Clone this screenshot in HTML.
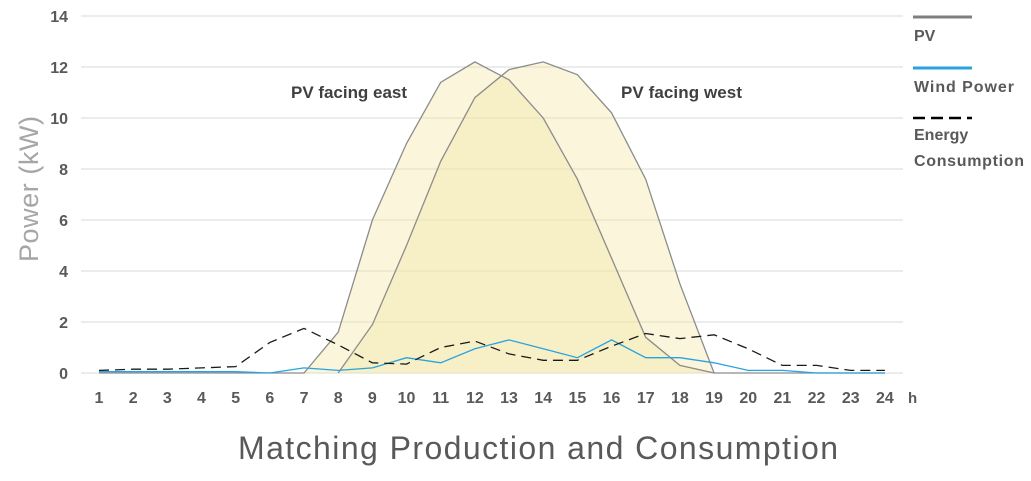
<!DOCTYPE html>
<html><head><meta charset="utf-8"><style>
body{margin:0;background:#fff;width:1031px;height:476px;overflow:hidden}
svg text{font-family:"Liberation Sans",sans-serif}
</style></head><body>
<svg id="s" width="1031" height="476" xmlns="http://www.w3.org/2000/svg">
<g id="grid" stroke="#d9d9d9" stroke-width="1"></g>
<g id="series"></g>
<g id="labels" fill="#595959" font-size="16" font-weight="bold"></g>
<text x="291" y="98" font-size="17" font-weight="bold" fill="#404040" textLength="116">PV facing east</text>
<text x="621" y="98" font-size="17" font-weight="bold" fill="#404040" textLength="121">PV facing west</text>
<text transform="translate(38,189) rotate(-90)" text-anchor="middle" font-size="27" fill="#a6a6a6" textLength="146">Power (kW)</text>
<text x="908" y="403" font-size="15" font-weight="bold" fill="#595959">h</text>
<text x="238" y="459" font-size="32" fill="#595959" textLength="600">Matching Production and Consumption</text>
<line x1="913" y1="17" x2="972" y2="17" stroke="#7f7f7f" stroke-width="3"/>
<text x="914" y="41" font-size="16" font-weight="bold" fill="#595959">PV</text>
<line x1="913" y1="68" x2="972" y2="68" stroke="#29a3e0" stroke-width="3"/>
<text x="914" y="92" font-size="16" fill="#595959" font-weight="bold" textLength="100">Wind Power</text>
<line x1="913" y1="118" x2="972" y2="118" stroke="#000" stroke-width="2.5" stroke-dasharray="12,6"/>
<text x="914" y="140" font-size="16" fill="#595959" font-weight="bold">Energy</text>
<text x="914" y="166" font-size="16" fill="#595959" font-weight="bold" textLength="110">Consumption</text>
</svg>
<script>
var X=function(h){return 99+(h-1)*34.17},Y=function(v){return 373-v*25.5};
var ns="http://www.w3.org/2000/svg";
function el(p,t,a){var e=document.createElementNS(ns,t);for(var k in a)e.setAttribute(k,a[k]);document.getElementById(p).appendChild(e);return e}
for(var v=0;v<=14;v+=2){el("grid","line",{x1:81,x2:903,y1:Y(v),y2:Y(v)});var t=el("labels","text",{x:68,y:Y(v)+6,"text-anchor":"end"});t.textContent=v;}
for(var h=1;h<=24;h++){var t=el("labels","text",{x:X(h),y:403,"text-anchor":"middle"});t.textContent=h;}
function pts(o){return o.map(function(p){return X(p[0]).toFixed(1)+","+Y(p[1]).toFixed(1)}).join(" ")}
var east=[[7,0],[8,1.6],[9,6],[10,9],[11,11.4],[12,12.2],[13,11.5],[14,10],[15,7.6],[16,4.5],[17,1.4],[18,0.3],[19,0]];
var west=[[8,0],[9,1.9],[10,5],[11,8.3],[12,10.8],[13,11.9],[14,12.2],[15,11.7],[16,10.2],[17,7.6],[18,3.5],[19,0]];
var wind=[0.05,0.05,0.05,0.05,0.05,0,0.2,0.1,0.2,0.6,0.4,0.95,1.3,0.95,0.6,1.3,0.6,0.6,0.4,0.1,0.1,0,0,0].map(function(v,i){return[i+1,v]});
var en=[0.1,0.15,0.15,0.2,0.25,1.2,1.75,1.1,0.4,0.35,1.0,1.25,0.75,0.5,0.5,1.05,1.55,1.35,1.5,0.95,0.3,0.3,0.1,0.1].map(function(v,i){return[i+1,v]});
el("series","polygon",{points:pts(east),fill:"#f2e6a0","fill-opacity":"0.38",stroke:"none"});
el("series","polygon",{points:pts(west),fill:"#f2e6a0","fill-opacity":"0.38",stroke:"none"});
el("series","polyline",{points:pts([[1,0],[7,0]].concat(east).concat([[24,0]])),fill:"none",stroke:"#8c8c8c","stroke-width":1.3});
el("series","polyline",{points:pts(west),fill:"none",stroke:"#8c8c8c","stroke-width":1.3});
el("series","polyline",{points:pts(wind),fill:"none",stroke:"#29a3e0","stroke-width":1.3});
el("series","polyline",{points:pts(en),fill:"none",stroke:"#1a1a1a","stroke-width":1.3,"stroke-dasharray":"10,6"});
</script>
</body></html>
